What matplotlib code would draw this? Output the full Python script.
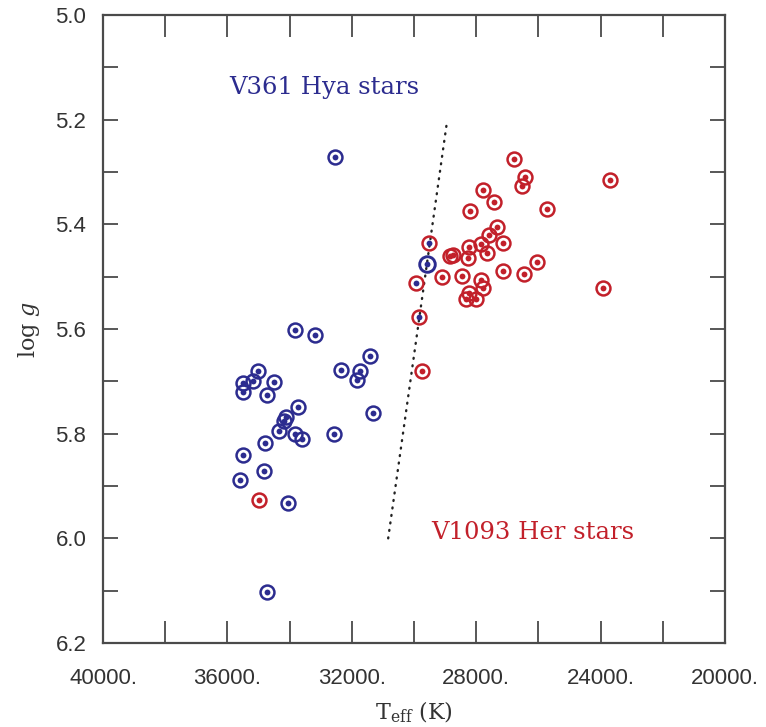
import matplotlib
matplotlib.use("Agg")
import matplotlib.pyplot as plt
from matplotlib.ticker import MultipleLocator, FuncFormatter

# V361 Hya stars (blue ring, blue centre)
hya_teff = [32540, 33817, 33174, 31405, 32338, 31727, 31823, 35026, 35508, 35167,
            34511, 35508, 34736, 33730, 34100, 34170, 34341, 33817, 33611, 32582,
            31328, 34781, 35508, 34813, 35595, 34042, 34717]
hya_logg = [5.272, 5.601, 5.611, 5.651, 5.678, 5.681, 5.697, 5.681, 5.703, 5.700,
            5.701, 5.721, 5.727, 5.749, 5.768, 5.775, 5.795, 5.801, 5.810, 5.800,
            5.761, 5.817, 5.841, 5.871, 5.889, 5.932, 6.102]

# Star with a larger blue ring near the boundary
hya_edge_teff = [29592]
hya_edge_logg = [5.476]

# V1093 Her stars (red ring, red centre)
her_teff = [26775, 26441, 26518, 23698, 27772, 27428, 28199, 25723, 27322, 27598,
            27148, 27855, 28222, 27643, 28254, 28842, 28736, 26035, 27128, 26473,
            29090, 28457, 27855, 27781, 28222, 28328, 28006, 23932, 29752, 34974]
her_logg = [5.276, 5.309, 5.327, 5.316, 5.334, 5.357, 5.375, 5.370, 5.406, 5.421,
            5.435, 5.438, 5.443, 5.454, 5.465, 5.460, 5.459, 5.472, 5.489, 5.494,
            5.501, 5.499, 5.506, 5.522, 5.532, 5.543, 5.542, 5.522, 5.680, 5.926]

# Hybrid cases: red ring with a blue centre
mix_teff = [29508, 29945, 29830]
mix_logg = [5.436, 5.512, 5.578]

# Dotted dividing line
line_teff = [30830, 28930]
line_logg = [6.0, 5.2]

x_ticks = [40000, 36000, 32000, 28000, 24000, 20000]
y_ticks = [5.0, 5.2, 5.4, 5.6, 5.8, 6.0, 6.2]

BLUE = "#2c2c8f"
RED = "#c2202a"
AXC = "#4a4a4a"
TXT = "#333333"

plt.rcParams["mathtext.fontset"] = "dejavuserif"

fig = plt.figure(figsize=(7.66, 7.27), dpi=100)
ax = fig.add_axes([103 / 766, 1 - 643 / 727, 622 / 766, 628 / 727])

ring_kw = dict(ls="none", marker="o", mfc="none", ms=10.0, mew=1.8)
dot_kw = dict(ls="none", marker="o", ms=4.2, mew=0)

ax.plot(line_teff, line_logg, color="#222222", lw=1.7, ls=(0, (0.4, 2.8)),
        dash_capstyle="round", zorder=1)

ax.plot(her_teff, her_logg, mec=RED, **ring_kw, zorder=3)
ax.plot(her_teff, her_logg, color=RED, **dot_kw, zorder=4)

ax.plot(mix_teff, mix_logg, mec=RED, **ring_kw, zorder=3)
ax.plot(mix_teff, mix_logg, color=BLUE, **dot_kw, zorder=4)

ax.plot(hya_teff, hya_logg, mec=BLUE, **ring_kw, zorder=3)
ax.plot(hya_teff, hya_logg, color=BLUE, **dot_kw, zorder=4)

ax.plot(hya_edge_teff, hya_edge_logg, ls="none", marker="o", mfc="none",
        mec=BLUE, ms=11.2, mew=2.1, zorder=3)
ax.plot(hya_edge_teff, hya_edge_logg, color=BLUE, **dot_kw, zorder=4)

ax.set_xlim(40000, 20000)
ax.set_ylim(6.2, 5.0)

ax.xaxis.set_minor_locator(MultipleLocator(2000))
ax.yaxis.set_minor_locator(MultipleLocator(0.1))
ax.set_xticks(x_ticks)
ax.set_yticks(y_ticks)
ax.xaxis.set_major_formatter(FuncFormatter(lambda v, p: f"{v:.0f}."))
ax.yaxis.set_major_formatter(FuncFormatter(lambda v, p: f"{v:.1f}"))

for side in ax.spines.values():
    side.set_color(AXC)
    side.set_linewidth(1.6)

ax.tick_params(axis="both", which="both", direction="in", top=True, right=True,
               color=AXC, width=1.3, labelcolor=TXT)
ax.tick_params(axis="x", which="both", length=16, pad=18, labelsize=16)
ax.tick_params(axis="y", which="both", length=11, pad=12, labelsize=16)
for lab in ax.get_xticklabels() + ax.get_yticklabels():
    lab.set_family("Liberation Sans")

ax.set_xlabel(r"$\mathrm{T_{eff}}$ (K)", family="DejaVu Serif", fontsize=16,
              color=TXT, labelpad=8)
ax.set_ylabel(r"log $g$", family="DejaVu Serif", fontsize=16,
              color=TXT, labelpad=10)

ax.text(32880, 5.138, "V361 Hya stars", color=BLUE, family="DejaVu Serif",
        fontsize=17.5, ha="center", va="center")
ax.text(26170, 5.988, "V1093 Her stars", color=RED, family="DejaVu Serif",
        fontsize=17.5, ha="center", va="center")

fig.savefig("out.png", dpi=100, facecolor="white")
